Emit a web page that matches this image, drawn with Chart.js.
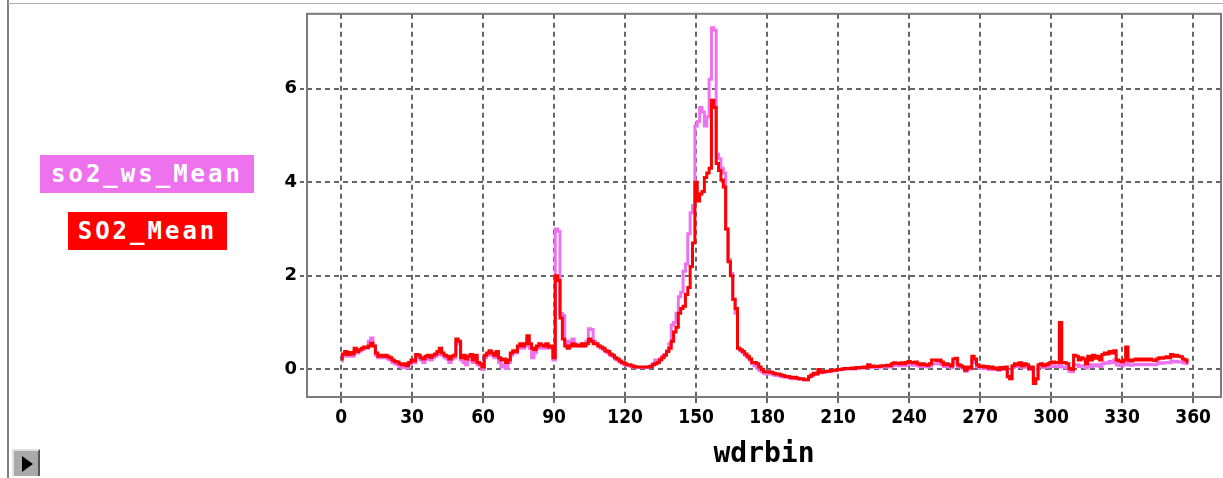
<!DOCTYPE html>
<html>
<head>
<meta charset="utf-8">
<script src="https://cdn.jsdelivr.net/npm/chart.js@4"></script>
<style>
  body { margin: 0; background: #fff; }
  #wrap { position: relative; width: 1223px; height: 478px; overflow: hidden; background: #fff; }
  #windChart { position: absolute; left: 0; top: 0; }
  .frameLeft { position: absolute; left: 7px; top: 0; width: 2px; height: 478px; background: #808080; }
  .frameTop { position: absolute; left: 8px; top: 3px; width: 1215px; height: 1px; background: #b0b0b0; }
  .key { position: absolute; height: 38px; line-height: 38px; color: #fff; text-align: center;
         font-family: "DejaVu Sans Mono", monospace; font-size: 24px; font-weight: bold; letter-spacing: 3px; }
  #keyWs { left: 40px; top: 155px; width: 214px; background: #ee72ee; }
  #keySo2 { left: 68px; top: 212px; width: 159px; background: #ff0000; }
  .playBtn { position: absolute; left: 12px; top: 449px; width: 24px; height: 25px; background: #a9a9a9;
             border-top: 2px solid #e0e0e0; border-left: 2px solid #e0e0e0; border-right: 2px solid #555; }
  .playBtn:after { content: ""; position: absolute; left: 8px; top: 5px; border-left: 11px solid #000;
                   border-top: 8px solid transparent; border-bottom: 8px solid transparent; }
</style>
</head>
<body>
<div id="wrap">
  <div class="frameLeft"></div>
  <div class="frameTop"></div>
  <canvas id="windChart" width="1223" height="478"></canvas>
  <div class="key" id="keyWs">so2_ws_Mean</div>
  <div class="key" id="keySo2">SO2_Mean</div>
  <div class="playBtn"></div>
</div>
<script>
// SO2 mean by wind direction bin (1 degree bins, 0..358)
var so2Mean = [
  0.22, 0.33, 0.38, 0.32, 0.36, 0.33, 0.45, 0.38, 0.42, 0.45,
  0.48, 0.47, 0.5, 0.56, 0.5, 0.35, 0.28, 0.3, 0.28, 0.3,
  0.27, 0.25, 0.2, 0.17, 0.16, 0.12, 0.1, 0.12, 0.08, 0.15,
  0.2, 0.18, 0.32, 0.3, 0.25, 0.22, 0.28, 0.3, 0.26, 0.3,
  0.33, 0.38, 0.45, 0.35, 0.3, 0.28, 0.22, 0.28, 0.3, 0.65,
  0.6, 0.25, 0.3, 0.22, 0.28, 0.32, 0.2, 0.3, 0.15, 0.12,
  0.05, 0.3, 0.35, 0.4, 0.35, 0.3, 0.38, 0.25, 0.2, 0.22,
  0.15, 0.2, 0.35, 0.4, 0.38, 0.5, 0.55, 0.5, 0.55, 0.72,
  0.55, 0.45, 0.42, 0.5, 0.55, 0.52, 0.5, 0.55, 0.48, 0.5,
  0.25, 2.0, 1.9, 1.1, 0.65, 0.5, 0.45, 0.5, 0.55, 0.5,
  0.52, 0.5, 0.55, 0.5, 0.55, 0.65, 0.6, 0.55, 0.55, 0.5,
  0.48, 0.45, 0.4, 0.38, 0.33, 0.3, 0.25, 0.22, 0.18, 0.15,
  0.13, 0.1, 0.1, 0.08, 0.06, 0.05, 0.05, 0.05, 0.05, 0.05,
  0.05, 0.06, 0.1, 0.12, 0.15, 0.2, 0.25, 0.3, 0.38, 0.45,
  0.6, 0.8, 0.9, 1.2, 1.3, 1.35, 1.6, 1.75, 2.2, 2.7,
  4.0, 3.6, 3.75, 3.8, 4.1, 4.2, 4.3, 5.75, 5.6, 4.4,
  4.25, 4.05, 3.9, 3.0, 2.3, 2.0, 1.5, 1.3, 0.45, 0.42,
  0.38, 0.33, 0.28, 0.22, 0.15, 0.15, 0.12, 0.05, 0.0, -0.05,
  -0.05, -0.05, -0.06, -0.08, -0.1, -0.1, -0.12, -0.13, -0.15, -0.15,
  -0.17, -0.18, -0.17, -0.19, -0.2, -0.2, -0.22, -0.22, -0.15, -0.12,
  -0.08, -0.1, 0.0, -0.06, -0.05, -0.04, -0.04, -0.03, -0.02, -0.02,
  0.0, 0.0, 0.01, 0.02, 0.02, 0.02, 0.03, 0.02, 0.04, 0.04,
  0.04, 0.05, 0.04, 0.1, 0.06, 0.07, 0.06, 0.06, 0.07, 0.08,
  0.08, 0.09, 0.08, 0.12, 0.14, 0.13, 0.12, 0.14, 0.12, 0.15,
  0.17, 0.15, 0.14, 0.16, 0.12, 0.1, 0.12, 0.1, 0.09, 0.12,
  0.2, 0.2, 0.19, 0.2, 0.16, 0.1, 0.12, 0.1, 0.07, 0.22,
  0.24, 0.1, 0.08, 0.05, -0.02, 0.05, 0.03, 0.28, 0.22, 0.1,
  0.06, 0.07, 0.05, 0.06, 0.03, 0.05, 0.02, 0.03, 0.0, 0.04,
  0.02, 0.05, -0.15, -0.2, 0.08, 0.12, 0.1, 0.14, 0.08, 0.12,
  0.1, 0.02, 0.05, -0.3, -0.2, 0.1, 0.12, 0.08, 0.1, 0.12,
  0.15, 0.16, 0.14, 0.15, 1.0, 0.15, 0.14, 0.12, 0.02, 0.0,
  0.3, 0.28, 0.2, 0.25, 0.22, 0.12, 0.28, 0.2, 0.3, 0.24,
  0.28, 0.2, 0.32, 0.35, 0.33, 0.38, 0.35, 0.4, 0.2, 0.18,
  0.16, 0.2, 0.48, 0.2, 0.18, 0.2, 0.22, 0.2, 0.22, 0.2,
  0.22, 0.2, 0.22, 0.2, 0.19, 0.22, 0.25, 0.24, 0.25, 0.27,
  0.25, 0.32, 0.28, 0.3, 0.28, 0.27, 0.22, 0.2, 0.16
];

// wind-speed weighted SO2 mean, same bins
var so2WsMean = [
  0.18, 0.28, 0.3, 0.28, 0.3, 0.28, 0.38, 0.35, 0.4, 0.42,
  0.45, 0.45, 0.6, 0.67, 0.5, 0.3, 0.25, 0.26, 0.25, 0.26,
  0.22, 0.2, 0.15, 0.12, 0.1, 0.06, 0.04, 0.06, 0.03, 0.1,
  0.15, 0.14, 0.27, 0.25, 0.2, 0.15, 0.22, 0.25, 0.2, 0.25,
  0.28, 0.32, 0.4, 0.3, 0.25, 0.22, 0.15, 0.22, 0.25, 0.6,
  0.55, 0.2, 0.15, 0.1, 0.2, 0.25, 0.15, 0.25, 0.1, 0.08,
  0.0, 0.25, 0.3, 0.35, 0.3, 0.25, 0.3, 0.15, 0.05, 0.1,
  0.02, 0.15, 0.3, 0.35, 0.35, 0.45, 0.5, 0.45, 0.5, 0.65,
  0.45, 0.25, 0.35, 0.45, 0.5, 0.45, 0.45, 0.5, 0.45, 0.45,
  0.2, 3.0, 2.95, 1.2, 1.15, 0.6, 0.55, 0.6, 0.65, 0.55,
  0.5, 0.5, 0.5, 0.55, 0.6, 0.87, 0.85, 0.6, 0.55, 0.5,
  0.45, 0.42, 0.38, 0.35, 0.3, 0.28, 0.22, 0.2, 0.16, 0.13,
  0.1, 0.08, 0.08, 0.06, 0.05, 0.04, 0.04, 0.04, 0.04, 0.04,
  0.05, 0.07, 0.12, 0.2, 0.15, 0.22, 0.28, 0.32, 0.4, 0.55,
  0.95, 1.0, 1.2, 1.55, 1.65, 2.1, 2.25, 2.9, 3.35, 3.5,
  5.2, 5.3, 5.6, 5.5, 5.2, 5.4, 6.2, 7.3, 7.25, 4.6,
  4.5, 4.3, 4.2, 3.0, 2.35, 2.05, 1.5, 1.2, 0.45, 0.4,
  0.35, 0.3, 0.25, 0.2, 0.12, 0.08, 0.03, -0.02, -0.05, -0.08,
  -0.1, -0.1, -0.1, -0.12, -0.13, -0.13, -0.15, -0.16, -0.17, -0.17,
  -0.19, -0.2, -0.19, -0.2, -0.21, -0.21, -0.22, -0.22, -0.17, -0.14,
  -0.1, -0.1, -0.03, -0.07, -0.06, -0.05, -0.05, -0.04, -0.03, -0.03,
  -0.01, -0.01, 0.0, 0.01, 0.01, 0.01, 0.02, 0.01, 0.02, 0.03,
  0.03, 0.03, 0.03, 0.06, 0.04, 0.04, 0.04, 0.04, 0.05, 0.05,
  0.05, 0.06, 0.05, 0.08, 0.09, 0.09, 0.08, 0.09, 0.08, 0.1,
  0.11, 0.1, 0.09, 0.1, 0.08, 0.06, 0.07, 0.06, 0.05, 0.07,
  0.12, 0.12, 0.12, 0.12, 0.1, 0.06, 0.07, 0.06, 0.04, 0.14,
  0.15, 0.06, 0.05, 0.02, -0.04, 0.02, 0.01, 0.2, 0.15, 0.06,
  0.03, 0.04, 0.02, 0.03, 0.0, 0.02, 0.0, 0.01, -0.02, 0.01,
  0.0, 0.02, -0.16, -0.2, 0.04, 0.07, 0.06, 0.08, 0.04, 0.07,
  0.05, 0.0, 0.02, -0.28, -0.2, 0.05, 0.06, 0.04, 0.05, 0.06,
  0.06, 0.07, 0.06, 0.06, 0.1, 0.05, 0.04, 0.03, -0.04, -0.05,
  0.1, 0.1, 0.06, 0.08, 0.07, 0.03, 0.1, 0.06, 0.1, 0.08,
  0.1, 0.06, 0.12, 0.14, 0.13, 0.17, 0.15, 0.2, 0.1, 0.09,
  0.08, 0.1, 0.15, 0.1, 0.09, 0.1, 0.11, 0.1, 0.11, 0.1,
  0.11, 0.1, 0.11, 0.1, 0.1, 0.12, 0.14, 0.13, 0.14, 0.15,
  0.14, 0.18, 0.16, 0.17, 0.16, 0.16, 0.14, 0.13, 0.12
];

var wdrbin = so2Mean.map((v, i) => i);
var xTicks = [0, 30, 60, 90, 120, 150, 180, 210, 240, 270, 300, 330, 360];
var yTicks = [0, 2, 4, 6];

var gridGrey = "#666666";

// box round the plot area, like the original
var plotBox = {
  id: "plotBox",
  afterDatasetsDraw(chart) {
    var a = chart.chartArea;
    var ctx = chart.ctx;
    ctx.save();
    ctx.strokeStyle = "#7a7a7a";
    ctx.lineWidth = 2;
    ctx.strokeRect(a.left, a.top, a.right - a.left, a.bottom - a.top);
    ctx.restore();
  }
};

function points(values) {
  return wdrbin.map((w, i) => ({ x: w, y: values[i] }));
}

new Chart(document.getElementById("windChart"), {
  type: "line",
  data: {
    datasets: [{
      label: "SO2_Mean",
      data: points(so2Mean),
      borderColor: "#ff0000",
      borderWidth: 3,
      borderJoinStyle: "miter",
      stepped: "middle",
      pointRadius: 0,
      order: 1
    }, {
      label: "so2_ws_Mean",
      data: points(so2WsMean),
      borderColor: "#ee72ee",
      borderWidth: 3,
      borderJoinStyle: "miter",
      stepped: "middle",
      pointRadius: 0,
      order: 2
    }]
  },
  options: {
    responsive: false,
    animation: false,
    layout: { padding: { top: 11, right: 2, left: 0, bottom: 0 } },
    plugins: {
      legend: { display: false },
      tooltip: { enabled: false }
    },
    scales: {
      x: {
        type: "linear",
        min: -14.4,
        max: 371.8,
        afterBuildTicks: s => { s.ticks = xTicks.map(v => ({ value: v })); },
        afterFit: s => { s.height = 81; },
        grid: { color: gridGrey, lineWidth: 2, tickLength: 6, tickColor: gridGrey, tickBorderDash: [] },
        border: { display: false, dash: [5, 4] },
        ticks: {
          color: "#000",
          padding: 4,
          maxRotation: 0,
          autoSkip: false,
          font: { family: "'DejaVu Sans Condensed', 'DejaVu Sans'", size: 19, weight: "bold" }
        },
        title: {
          display: true,
          text: "wdrbin",
          color: "#000",
          padding: { top: 0, bottom: 6 },
          font: { family: "'DejaVu Sans Mono', monospace", size: 28, weight: "bold" }
        }
      },
      y: {
        min: -0.59,
        max: 7.6,
        afterBuildTicks: s => { s.ticks = yTicks.map(v => ({ value: v })); },
        afterFit: s => { s.width = 307; },
        grid: { color: gridGrey, lineWidth: 2, tickLength: 7, tickColor: gridGrey, tickBorderDash: [4, 3] },
        border: { display: false, dash: [5, 4] },
        ticks: {
          color: "#000",
          padding: 3,
          font: { family: "'DejaVu Sans'", size: 18, weight: "bold" }
        }
      }
    }
  },
  plugins: [plotBox]
});
</script>
</body>
</html>
